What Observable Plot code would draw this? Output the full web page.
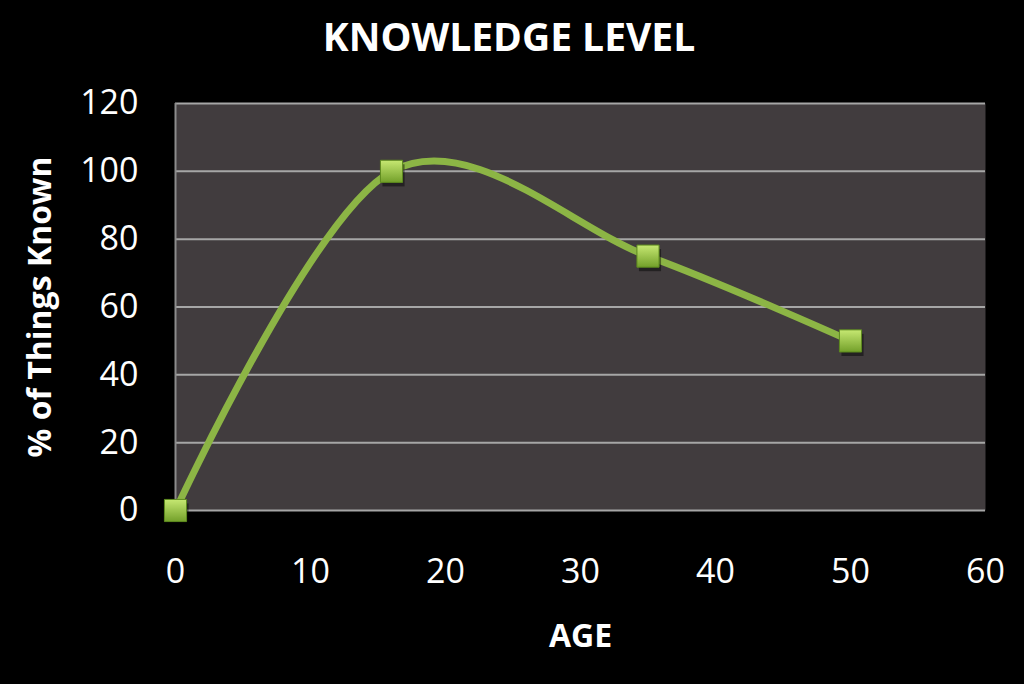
<!DOCTYPE html>
<html><head><meta charset="utf-8">
<script src="https://cdn.jsdelivr.net/npm/d3@7"></script>
<script src="https://cdn.jsdelivr.net/npm/@observablehq/plot@0.6"></script>
<style>
html,body{margin:0;padding:0;background:#000;}
#title{height:70px;box-sizing:border-box;padding-top:3px;width:1018px;text-align:center;color:#fff;font:bold 39px "Open Sans";line-height:66px;}
</style></head><body>
<div id="title">KNOWLEDGE LEVEL</div>
<div id="chart"></div>
<script>
const ages = [0, 16, 35, 50];
const known = [0, 100, 75, 50];
const xTicks = [0, 10, 20, 30, 40, 50, 60];
const yTicks = [0, 20, 40, 60, 80, 100, 120];
const data = ages.map((a, i) => ({age: a, known: known[i]}));

const defs = () => {
  const d = d3.create("svg:defs");
  const g = d.append("linearGradient").attr("id", "mk").attr("x1", 0).attr("y1", 0).attr("x2", 0).attr("y2", 1);
  g.append("stop").attr("offset", "0%").attr("stop-color", "#c6e872");
  g.append("stop").attr("offset", "100%").attr("stop-color", "#73a02a");
  return d.node();
};

const chart = Plot.plot({
  width: 1024, height: 614,
  marginLeft: 175, marginRight: 39, marginTop: 33, marginBottom: 174,
  style: {background: "#000", color: "#fff", fontFamily: "'Open Sans'", overflow: "visible"},
  x: {domain: [0, 60]},
  y: {domain: [0, 120]},
  marks: [
    defs,
    Plot.frame({fill: "#413c3e", stroke: "none"}),
    Plot.gridY(yTicks, {stroke: "#a6a6a6", strokeOpacity: 1, strokeWidth: 2}),
    Plot.ruleX([0], {stroke: "#8c8c8c", strokeWidth: 2}),
    Plot.axisX(xTicks, {tickSize: 0, tickPadding: 48, fontSize: 34, label: "AGE", labelAnchor: "center", labelOffset: 136, labelArrow: "none"}),
    Plot.axisY(yTicks, {tickSize: 0, tickPadding: 37, fontSize: 34, label: "% of Things Known", labelAnchor: "center", labelOffset: 147, labelArrow: "none"}),
    Plot.line(data, {x: "age", y: "known", curve: "cardinal", tension: 0, stroke: "#8cb545", strokeWidth: 7}),
    Plot.dot(data, {x: "age", y: "known", symbol: "square", r: 12.5, fill: "#000", fillOpacity: 0.45, stroke: "none", dx: 2, dy: 4}),
    Plot.dot(data, {x: "age", y: "known", symbol: "square", r: 12.5, fill: "url(#mk)", stroke: "#5d8a1e", strokeWidth: 1})
  ]
});
d3.select(chart).selectAll('[aria-label="x-axis label"], [aria-label="y-axis label"]')
  .attr("font-weight", "bold").attr("font-size", 32);
document.getElementById("chart").appendChild(chart);
</script>
</body></html>
